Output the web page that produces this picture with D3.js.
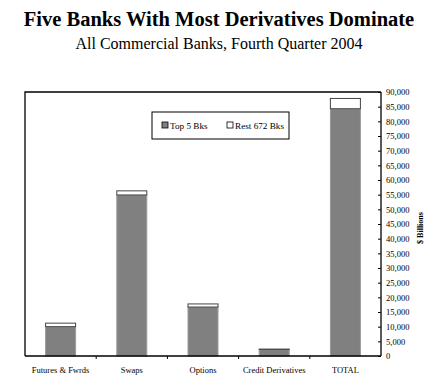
<!DOCTYPE html>
<html>
<head>
<meta charset="utf-8">
<script src="https://cdn.jsdelivr.net/npm/d3@7"></script>
<style>
  body { margin: 0; background: #fff; }
  text { font-family: "Liberation Serif", "Times New Roman", serif; fill: #000; }
</style>
</head>
<body>
<script>
var categories = ["Futures & Fwrds", "Swaps", "Options", "Credit Derivatives", "TOTAL"];
var top5 = [10000, 54900, 16700, 2250, 84300];
var rest = [1200, 1400, 1050, 100, 3500];
var yTicks = d3.range(0, 90001, 5000);
var seriesNames = ["Top 5 Bks", "Rest 672 Bks"];

(function() {
  var w = 445, h = 380;
  var plotLeft = 25, plotRight = 381, plotTop = 92, plotBottom = 356;

  var svg = d3.select("body").append("svg")
      .attr("width", w)
      .attr("height", h);

  // titles
  svg.append("text")
      .attr("x", 219).attr("y", 26)
      .attr("text-anchor", "middle")
      .style("font-size", "20.5px").style("font-weight", "bold")
      .text("Five Banks With Most Derivatives Dominate");
  svg.append("text")
      .attr("x", 219).attr("y", 49)
      .attr("text-anchor", "middle")
      .style("font-size", "16px")
      .text("All Commercial Banks, Fourth Quarter 2004");

  var x = d3.scaleBand().domain(categories).range([plotLeft, plotRight]).padding(0);
  var y = d3.scaleLinear().domain([0, 90000]).range([plotBottom, plotTop]);

  // plot frame (top and left)
  svg.append("path")
      .attr("d", "M" + plotLeft + "," + plotBottom + "V" + plotTop + "H" + plotRight)
      .attr("fill", "none").attr("stroke", "#000").attr("stroke-width", 1.3);

  // bars
  var bw = 30;
  var g = svg.append("g");
  g.selectAll(".top5").data(categories).enter().append("rect")
      .attr("x", function(d) { return x(d) + x.bandwidth() / 2 - bw / 2; })
      .attr("y", function(d, i) { return y(top5[i]); })
      .attr("width", bw)
      .attr("height", function(d, i) { return plotBottom - y(top5[i]); })
      .attr("fill", "#808080").attr("stroke", "#9a9a9a").attr("stroke-width", 1);
  g.selectAll(".rest").data(categories).enter().append("rect")
      .attr("x", function(d) { return x(d) + x.bandwidth() / 2 - bw / 2; })
      .attr("y", function(d, i) { return y(top5[i] + rest[i]); })
      .attr("width", bw)
      .attr("height", function(d, i) { return y(top5[i]) - y(top5[i] + rest[i]); })
      .attr("fill", "#fff").attr("stroke", "#444").attr("stroke-width", 1);

  // x axis
  var xAxis = svg.append("g")
      .attr("transform", "translate(0," + plotBottom + ")");
  xAxis.append("line")
      .attr("x1", plotLeft).attr("x2", plotRight)
      .attr("stroke", "#000").attr("stroke-width", 1.3);
  xAxis.selectAll(".sep").data(categories.slice(1)).enter().append("line")
      .attr("x1", function(d) { return x(d); }).attr("x2", function(d) { return x(d); })
      .attr("y1", 0).attr("y2", 3)
      .attr("stroke", "#000");
  xAxis.selectAll(".lab").data(categories).enter().append("text")
      .attr("x", function(d) { return x(d) + x.bandwidth() / 2; })
      .attr("y", 17)
      .attr("text-anchor", "middle")
      .style("font-size", "8.5px")
      .text(function(d) { return d; });

  // right y axis
  var yAxis = d3.axisRight(y)
      .tickValues(yTicks)
      .tickSize(3)
      .tickFormat(d3.format(","));
  var ya = svg.append("g")
      .attr("transform", "translate(" + plotRight + ",0)")
      .call(yAxis);
  ya.select(".domain").attr("stroke", "#000").attr("stroke-width", 1.3)
      .attr("d", "M0," + plotTop + "V" + plotBottom);
  ya.selectAll(".tick line").attr("x1", -3).attr("x2", 0).attr("stroke", "#000");
  ya.selectAll(".tick text")
      .attr("x", 5)
      .style("font-family", "Liberation Serif, serif")
      .style("font-size", "8.5px");

  svg.append("text")
      .attr("transform", "translate(423,228) rotate(-90)")
      .attr("text-anchor", "middle")
      .style("font-size", "8px").style("font-weight", "bold")
      .text("$ Billions");

  // legend
  var lg = svg.append("g");
  lg.append("rect")
      .attr("x", 152).attr("y", 112).attr("width", 137).attr("height", 27)
      .attr("fill", "#fff").attr("stroke", "#000").attr("stroke-width", 1);
  var items = lg.selectAll(".item").data(seriesNames).enter().append("g")
      .attr("transform", function(d, i) { return "translate(" + (i ? 227 : 162) + ",125)"; });
  items.append("rect")
      .attr("x", 0).attr("y", -3).attr("width", 6).attr("height", 6)
      .attr("fill", function(d, i) { return i ? "#fff" : "#808080"; })
      .attr("stroke", "#000").attr("stroke-width", 0.8);
  items.append("text")
      .attr("x", 8).attr("y", 3.5)
      .style("font-size", "9.2px")
      .text(function(d) { return d; });
})();
</script>
</body>
</html>
